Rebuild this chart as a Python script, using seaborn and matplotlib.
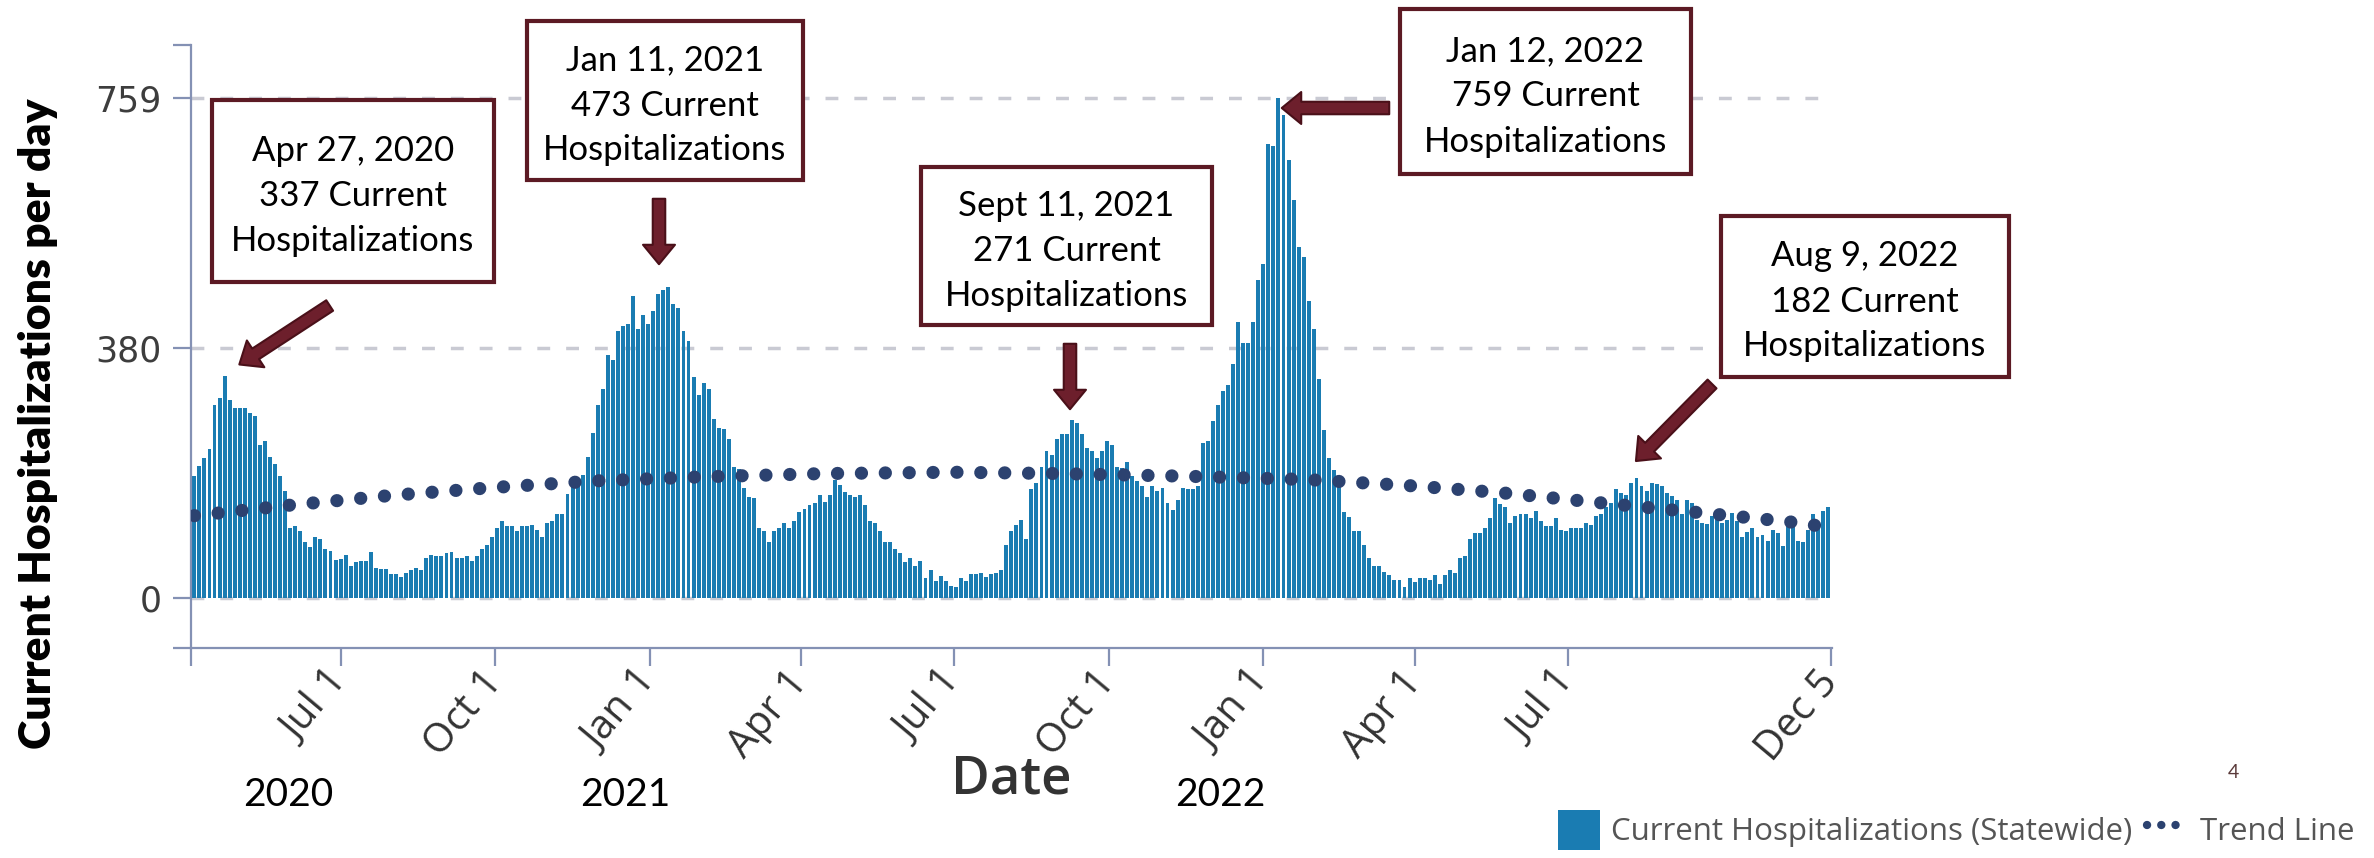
import matplotlib
matplotlib.use("Agg")
import numpy as np
import pandas as pd
import matplotlib.pyplot as plt
import matplotlib.dates as mdates
from matplotlib.patches import Rectangle, FancyArrowPatch, Patch
from matplotlib.lines import Line2D
import seaborn as sns

# ---------------- data ----------------
series_start = "2020-04-05"      # first bar
series_step_days = 3             # one bar every 3 days

hosp_spring_2020 = [186, 201, 212, 227, 293, 304, 337, 301, 288, 289, 289, 281, 276, 233, 238,
                    214, 204, 186, 163, 107, 110, 102, 85, 78, 92, 89, 74, 71, 58, 59, 66, 48,
                    54, 56, 56, 70, 46, 44, 44, 37, 37, 32, 38, 42, 46, 43, 60, 66, 63, 63, 68,
                    70, 60, 60, 64, 56, 64, 74, 80, 92, 106, 117, 109, 110, 102]
hosp_winter_2021 = [110, 110, 111, 104, 92, 114, 117, 128, 128, 158, 168, 176, 187, 214, 250, 293,
                    318, 369, 362, 405, 413, 416, 459, 408, 430, 416, 436, 462, 468, 473, 447,
                    441, 405, 390, 335, 309, 327, 318, 272, 258, 257, 242, 199, 196, 167, 153,
                    152, 106, 102, 85, 102, 106, 114, 107, 117, 131, 135, 141, 145, 157, 146,
                    157, 179, 171, 161, 157, 153, 157, 141, 117, 114, 102, 85, 85, 74, 68, 54,
                    60, 48, 56, 31, 42, 26, 34, 26, 18, 17, 31, 26, 37, 36, 38, 32, 36, 38, 42,
                    80, 102, 111]
hosp_fall_2021 = [118, 89, 165, 175, 199, 224, 217, 242, 249, 249, 271, 266, 249, 228, 224, 213,
                  224, 238, 232, 199, 198, 207, 185, 177, 170, 153, 170, 162, 167, 144, 134, 149,
                  167, 165, 165, 170, 236, 239]
hosp_winter_2022 = [269, 293, 315, 323, 355, 419, 387, 387, 419, 483, 508, 689, 687, 759, 733, 666,
                    604, 533, 518, 451, 408, 333, 255, 212, 195, 184, 131, 123, 101, 101, 80, 61,
                    48, 48, 40, 35, 27, 27, 16]
hosp_2022_rest = [30, 25, 31, 31, 28, 35, 21, 35, 42, 38, 61, 63, 89, 99, 99, 106, 122, 152, 142,
                  138, 114, 124, 128, 128, 122, 132, 117, 110, 110, 121, 104, 102, 106, 106, 106,
                  114, 111, 124, 128, 138, 144, 165, 160, 157, 175, 182, 170, 163, 175, 173, 170,
                  160, 155, 149, 128, 149, 144, 118, 114, 112, 124, 124, 114, 118, 129, 117, 92,
                  100, 106, 92, 95, 86, 104, 99, 79, 122, 122, 86, 85, 104, 128, 112, 132, 138]

trend_dates = ["2020-04-05", "2020-06-01", "2020-08-01", "2020-10-01", "2020-12-01",
               "2021-02-01", "2021-04-15", "2021-07-01", "2021-09-01", "2021-11-15",
               "2022-01-26", "2022-03-27", "2022-05-22", "2022-07-19", "2022-09-12",
               "2022-11-09", "2022-12-05"]
trend_values = [125, 141, 156, 168, 178, 184, 189, 191, 189, 185, 180, 171, 160, 145, 131, 116, 107]

xtick_dates = ["2020-07-01", "2020-10-01", "2021-01-01", "2021-04-01", "2021-07-01",
               "2021-10-01", "2022-01-01", "2022-04-01", "2022-07-01", "2022-12-05"]
xtick_labels = ["Jul 1", "Oct 1", "Jan 1", "Apr 1", "Jul 1", "Oct 1", "Jan 1", "Apr 1", "Jul 1", "Dec 5"]
ytick_values = [0, 380, 759]
year_labels = ["2020", "2021", "2022"]

callout_texts = ["Apr 27, 2020\n337 Current\nHospitalizations",
                 "Jan 11, 2021\n473 Current\nHospitalizations",
                 "Sept 11, 2021\n271 Current\nHospitalizations",
                 "Jan 12, 2022\n759 Current\nHospitalizations",
                 "Aug 9, 2022\n182 Current\nHospitalizations"]

legend_labels = ["Current Hospitalizations (Statewide)", "Trend Line"]

# ---------------- build table ----------------
values = hosp_spring_2020 + hosp_winter_2021 + hosp_fall_2021 + hosp_winter_2022 + hosp_2022_rest
dates = pd.date_range(series_start, periods=len(values), freq=f"{series_step_days}D")
df = pd.DataFrame({"date": mdates.date2num(dates.to_pydatetime()), "hosp": values})
trend_df = pd.DataFrame({"date": mdates.date2num(pd.to_datetime(trend_dates).to_pydatetime()),
                         "trend": trend_values})

# ---------------- style ----------------
sns.set_theme(style="white")
plt.rcParams["font.family"] = ["Lato", "DejaVu Sans"]

W, H = 2374, 858
BAR = "#1a7cb2"
TREND = "#2c4270"
AXC = "#8491b4"
MAROON = "#5c1a24"

fig = plt.figure(figsize=(W / 100, H / 100), dpi=100)
ax = fig.add_axes([191 / W, 210 / H, 1641 / W, 603 / H])

sns.barplot(data=df, x="date", y="hosp", native_scale=True, color=BAR, saturation=1,
            width=0.78, errorbar=None, linewidth=0, ax=ax, zorder=2)
sns.lineplot(data=trend_df, x="date", y="trend", ax=ax, color=TREND, linewidth=9.5, zorder=3)
tline = ax.lines[-1]
tline.set_linestyle((0, (0.01, 1.8)))
tline.set_dash_capstyle("round")

x0 = mdates.date2num(pd.Timestamp("2020-04-03"))
x1 = mdates.date2num(pd.Timestamp("2022-12-05 08:00"))
ax.set_xlim(x0, x1)
ax.set_ylim(-76, 840)

# y axis
ax.set_yticks(ytick_values)
ax.set_yticklabels([str(v) for v in ytick_values], fontfamily="DejaVu Sans", fontsize=25, color="#3d3d3d")
ax.set_yticks([-76, 840], minor=True)
ax.yaxis.grid(True, which="major", color="#c9cad3", linewidth=2.5, linestyle=(0, (3.7, 4.6)), zorder=0)
ax.set_axisbelow(True)

# x axis
ax.set_xticks(mdates.date2num(pd.to_datetime(xtick_dates).to_pydatetime()))
ax.set_xticklabels(xtick_labels, fontfamily="Open Sans", fontsize=29, color="#333333",
                   rotation=50, ha="right", rotation_mode="anchor", va="center")
ax.set_xticks([x0], minor=True)
ax.xaxis.grid(False)

ax.tick_params(axis="both", which="both", length=13, width=1.6, color=AXC, direction="out",
               bottom=True, left=True)
ax.tick_params(axis="y", pad=8)
ax.tick_params(axis="x", pad=7)

sns.despine(ax=ax)
for s in ("left", "bottom"):
    ax.spines[s].set_color(AXC)
    ax.spines[s].set_linewidth(1.6)

ax.set_xlabel("Date", fontfamily="Open Sans", fontsize=38, fontweight="semibold", color="#333333")
ax.xaxis.label.set_va("center")
ax.xaxis.set_label_coords(0.5, -0.219)
ax.set_ylabel("Current Hospitalizations per day", fontfamily="Lato", fontsize=32,
              fontweight="heavy", color="black")
ax.yaxis.label.set_va("center")
ax.yaxis.set_label_coords(-0.0932, 0.3715)


def fp(x, y):
    return (x / W, 1 - y / H)


# year labels under the axis
for lab, xc in zip(year_labels, [288, 625, 1220]):
    fig.text(*fp(xc, 795), lab, ha="center", va="center", fontsize=28, family="Lato", color="black")

# call-out boxes and arrows
boxes = [(212, 100, 494, 282), (527, 21, 803, 180), (921, 167, 1212, 325),
         (1400, 9, 1691, 174), (1721, 216, 2009, 377)]
arrows = [((332, 304), (237, 366)), ((659, 196), (659, 267)), ((1070, 341), (1070, 412)),
          ((1392, 108), (1279, 108)), ((1714, 382), (1634, 463))]
for (bx0, by0, bx1, by1), txt in zip(boxes, callout_texts):
    (fx0, fy1) = fp(bx0, by1)
    rect = Rectangle((fx0, fy1), (bx1 - bx0) / W, (by1 - by0) / H, transform=fig.transFigure,
                     facecolor="white", edgecolor=MAROON, linewidth=3, zorder=5)
    fig.add_artist(rect)
    fig.text(*fp((bx0 + bx1) / 2, (by0 + by1) / 2 + 5), txt, ha="center", va="center",
             fontsize=25, family="Lato", color="black", linespacing=1.5, zorder=6)
for tail, tip in arrows:
    arr = FancyArrowPatch(fp(*tail), fp(*tip), transform=fig.transFigure,
                          arrowstyle="simple,head_length=14,head_width=23,tail_width=9",
                          mutation_scale=1, facecolor="#6d1f2c", edgecolor="#4a1019",
                          linewidth=1.5, zorder=6)
    fig.add_artist(arr)

# page number
fig.text(*fp(2233, 772), "4", ha="center", va="center", fontsize=14, family="Lato", color="#5a3a3a")

# legend
handles = [Patch(facecolor=BAR, edgecolor="none"),
           Line2D([], [], color=TREND, linewidth=6, linestyle=(0, (0.01, 1.7)),
                  dash_capstyle="round")]
leg = fig.legend(handles, legend_labels, loc="lower right", bbox_to_anchor=(2362 / W, 0.0),
                 ncol=2, frameon=False, prop={"family": "Open Sans", "size": 22.5},
                 labelcolor="#555555", handlelength=1.35, handleheight=1.6, handletextpad=0.35,
                 columnspacing=0.45, borderaxespad=0.1, borderpad=0.15)

fig.savefig("out.png", dpi=100, facecolor="white")
